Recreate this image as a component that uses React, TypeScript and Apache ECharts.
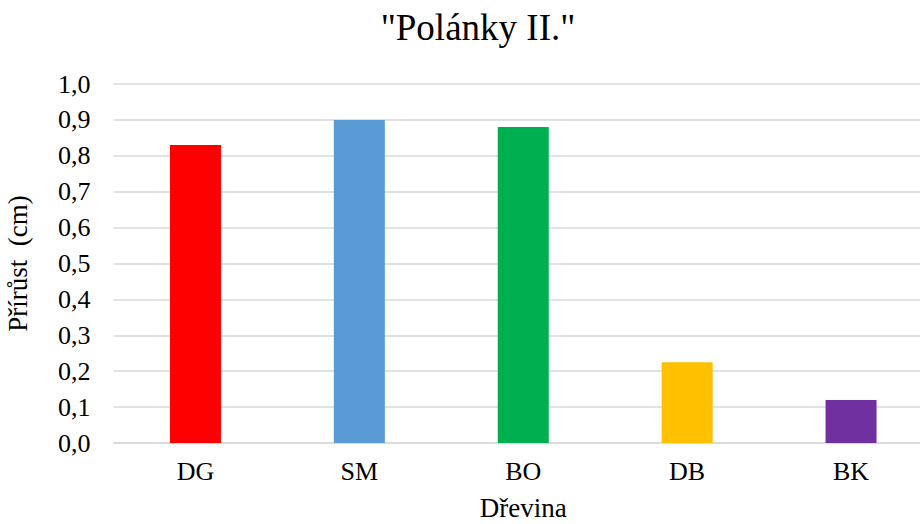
import React, { useEffect, useRef } from "react";
import * as echarts from "echarts";

const categories = ["DG", "SM", "BO", "DB", "BK"];
const values = [0.83, 0.9, 0.88, 0.225, 0.12];
const barColors = ["#FF0000", "#5B9BD5", "#00B050", "#FFC000", "#7030A0"];
const titleText = '"Polánky II."';
const yTitle = "Přírůst  (cm)";
const xTitle = "Dřevina";

const FONT = "'Liberation Serif', 'Times New Roman', serif";

export default function App() {
  const ref = useRef<HTMLDivElement>(null);
  useEffect(() => {
    if (!ref.current) return;
    const chart = echarts.init(ref.current, null, { renderer: "svg" });
    chart.setOption({
      animation: false,
      backgroundColor: "#ffffff",
      textStyle: { fontFamily: FONT },
      title: {
        text: titleText,
        left: 473,
        textAlign: "center",
        top: 4,
        textStyle: { fontFamily: FONT, fontSize: 37, fontWeight: "normal", color: "#000" },
      },
      grid: {
        left: 113.5,
        right: -13,
        top: 84,
        bottom: 81,
        containLabel: false,
        outerBoundsMode: "none",
      },
      xAxis: {
        type: "category",
        data: categories,
        name: xTitle,
        nameLocation: "middle",
        nameGap: 51,
        nameTextStyle: { fontFamily: FONT, fontSize: 27, color: "#000" },
        axisLine: { show: true, lineStyle: { color: "#D9D9D9", width: 1.5 } },
        axisTick: { show: false },
        axisLabel: { fontFamily: FONT, fontSize: 26, color: "#000", margin: 15 },
      },
      yAxis: {
        type: "value",
        min: 0,
        max: 1,
        interval: 0.1,
        name: yTitle,
        nameLocation: "middle",
        nameGap: 82,
        nameTextStyle: { fontFamily: FONT, fontSize: 27, color: "#000" },
        axisLine: { show: false },
        axisTick: { show: false },
        splitLine: { show: true, lineStyle: { color: "#D9D9D9", width: 1.5 } },
        axisLabel: {
          fontFamily: FONT,
          fontSize: 26,
          color: "#000",
          margin: 23,
          formatter: (v: number) => v.toFixed(1).replace(".", ","),
        },
      },
      series: [
        {
          type: "bar",
          barWidth: 51,
          data: values.map((v, i) => ({ value: v, itemStyle: { color: barColors[i] } })),
        },
      ],
    });
    return () => chart.dispose();
  }, []);
  return (
    <div
      ref={ref}
      style={{ position: "fixed", left: 0, top: 0, width: 920, height: 524 }}
    />
  );
}
